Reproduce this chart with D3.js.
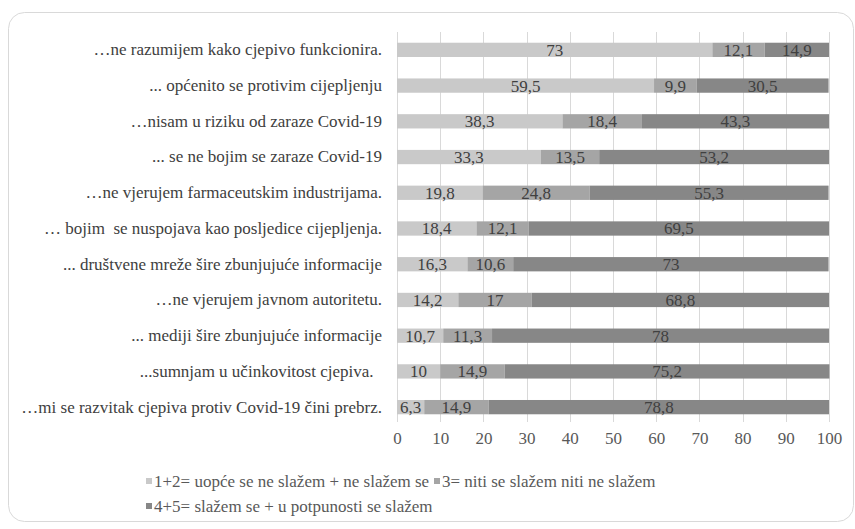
<!DOCTYPE html>
<html><head><meta charset="utf-8">
<script src="https://cdn.jsdelivr.net/npm/d3@7"></script>
<style>body{margin:0;background:#fff}</style>
</head><body>
<svg id="c" width="855" height="529" font-family="Liberation Serif"></svg>
<script>
const categories = [
  "…ne razumijem kako cjepivo funkcionira.",
  "... općenito se protivim cijepljenju",
  "…nisam u riziku od zaraze Covid-19",
  "... se ne bojim se zaraze Covid-19",
  "…ne vjerujem farmaceutskim industrijama.",
  "… bojim  se nuspojava kao posljedice cijepljenja.",
  "... društvene mreže šire zbunjujuće informacije",
  "…ne vjerujem javnom autoritetu.",
  "... mediji šire zbunjujuće informacije",
  "...sumnjam u učinkovitost cjepiva.  ",
  "…mi se razvitak cjepiva protiv Covid-19 čini prebrz."
];
const disagree = [73, 59.5, 38.3, 33.3, 19.8, 18.4, 16.3, 14.2, 10.7, 10, 6.3];
const neutral  = [12.1, 9.9, 18.4, 13.5, 24.8, 12.1, 10.6, 17, 11.3, 14.9, 14.9];
const agree    = [14.9, 30.5, 43.3, 53.2, 55.3, 69.5, 73, 68.8, 78, 75.2, 78.8];
const seriesNames = [
  "1+2= uopće se ne slažem + ne slažem se",
  "3= niti se slažem niti ne slažem",
  "4+5= slažem se + u potpunosti se slažem"
];
const xTicks = [0,10,20,30,40,50,60,70,80,90,100];

const colors = ["#c9c9c9", "#a5a5a5", "#878787"];
const FF = "Liberation Serif";
const svg = d3.select("#c");

svg.append("rect").attr("x",8.5).attr("y",12.5).attr("width",845).attr("height",509)
  .attr("rx",16).attr("fill","#fff").attr("stroke","#d9d9d9").attr("stroke-width",1);

const x = d3.scaleLinear().domain([0,100]).range([397,829]);
const y = d3.scaleBand().domain(categories).range([32,425]).paddingInner(0.6).paddingOuter(0.3);

// gridlines
svg.append("g").selectAll("line").data(xTicks).join("line")
  .attr("x1",d=>Math.round(x(d))+0.5).attr("x2",d=>Math.round(x(d))+0.5)
  .attr("y1",32).attr("y2",422).attr("stroke","#d9d9d9");

// x axis labels
const xAxis = d3.axisBottom(x).tickValues(xTicks).tickSize(0).tickPadding(0);
const gx = svg.append("g").attr("transform","translate(0,432)").call(xAxis)
  .attr("font-family",FF).attr("font-size",17);
gx.select(".domain").remove();
gx.selectAll("text").attr("font-family",FF).attr("font-size",17).attr("fill","#595959").attr("dy","0.71em");

// y axis labels
const yAxis = d3.axisLeft(y).tickSize(0).tickPadding(0);
const gy = svg.append("g").attr("transform","translate(382,0)").call(yAxis)
  .attr("font-family",FF).attr("font-size",17);
gy.select(".domain").remove();
gy.selectAll("text").attr("font-family",FF).attr("font-size",17).attr("xml:space","preserve").attr("fill","#404040");

// stacked data
const rows = categories.map((c,i)=>({cat:c, s0:disagree[i], s1:neutral[i], s2:agree[i]}));
const stack = d3.stack().keys(["s0","s1","s2"])(rows);

const g = svg.append("g");
stack.forEach((layer,li)=>{
  g.append("g").selectAll("rect").data(layer).join("rect")
    .attr("x",d=>x(d[0])).attr("width",d=>x(d[1])-x(d[0]))
    .attr("y",d=>y(d.data.cat)).attr("height",y.bandwidth())
    .attr("fill",colors[li]);
  g.append("g").selectAll("text").data(layer).join("text")
    .attr("x",d=>(x(d[0])+x(d[1]))/2).attr("y",d=>y(d.data.cat)+y.bandwidth()/2)
    .attr("dy","0.35em").attr("text-anchor","middle")
    .attr("font-family",FF).attr("font-size",17).attr("fill","#404040")
    .text(d=>String(+(d[1]-d[0]).toFixed(1)).replace(".",","));
});

// legend
const legendPos = [[146,481],[434,481],[146,506]];
seriesNames.forEach((n,i)=>{
  const [lx,ly] = legendPos[i];
  svg.append("rect").attr("x",lx).attr("y",ly-3).attr("width",6).attr("height",6).attr("fill",colors[i]);
  svg.append("text").attr("x",lx+8).attr("y",ly).attr("dy","0.35em")
    .attr("font-family",FF).attr("font-size",17).attr("fill","#595959").text(n);
});
</script>
</body></html>
